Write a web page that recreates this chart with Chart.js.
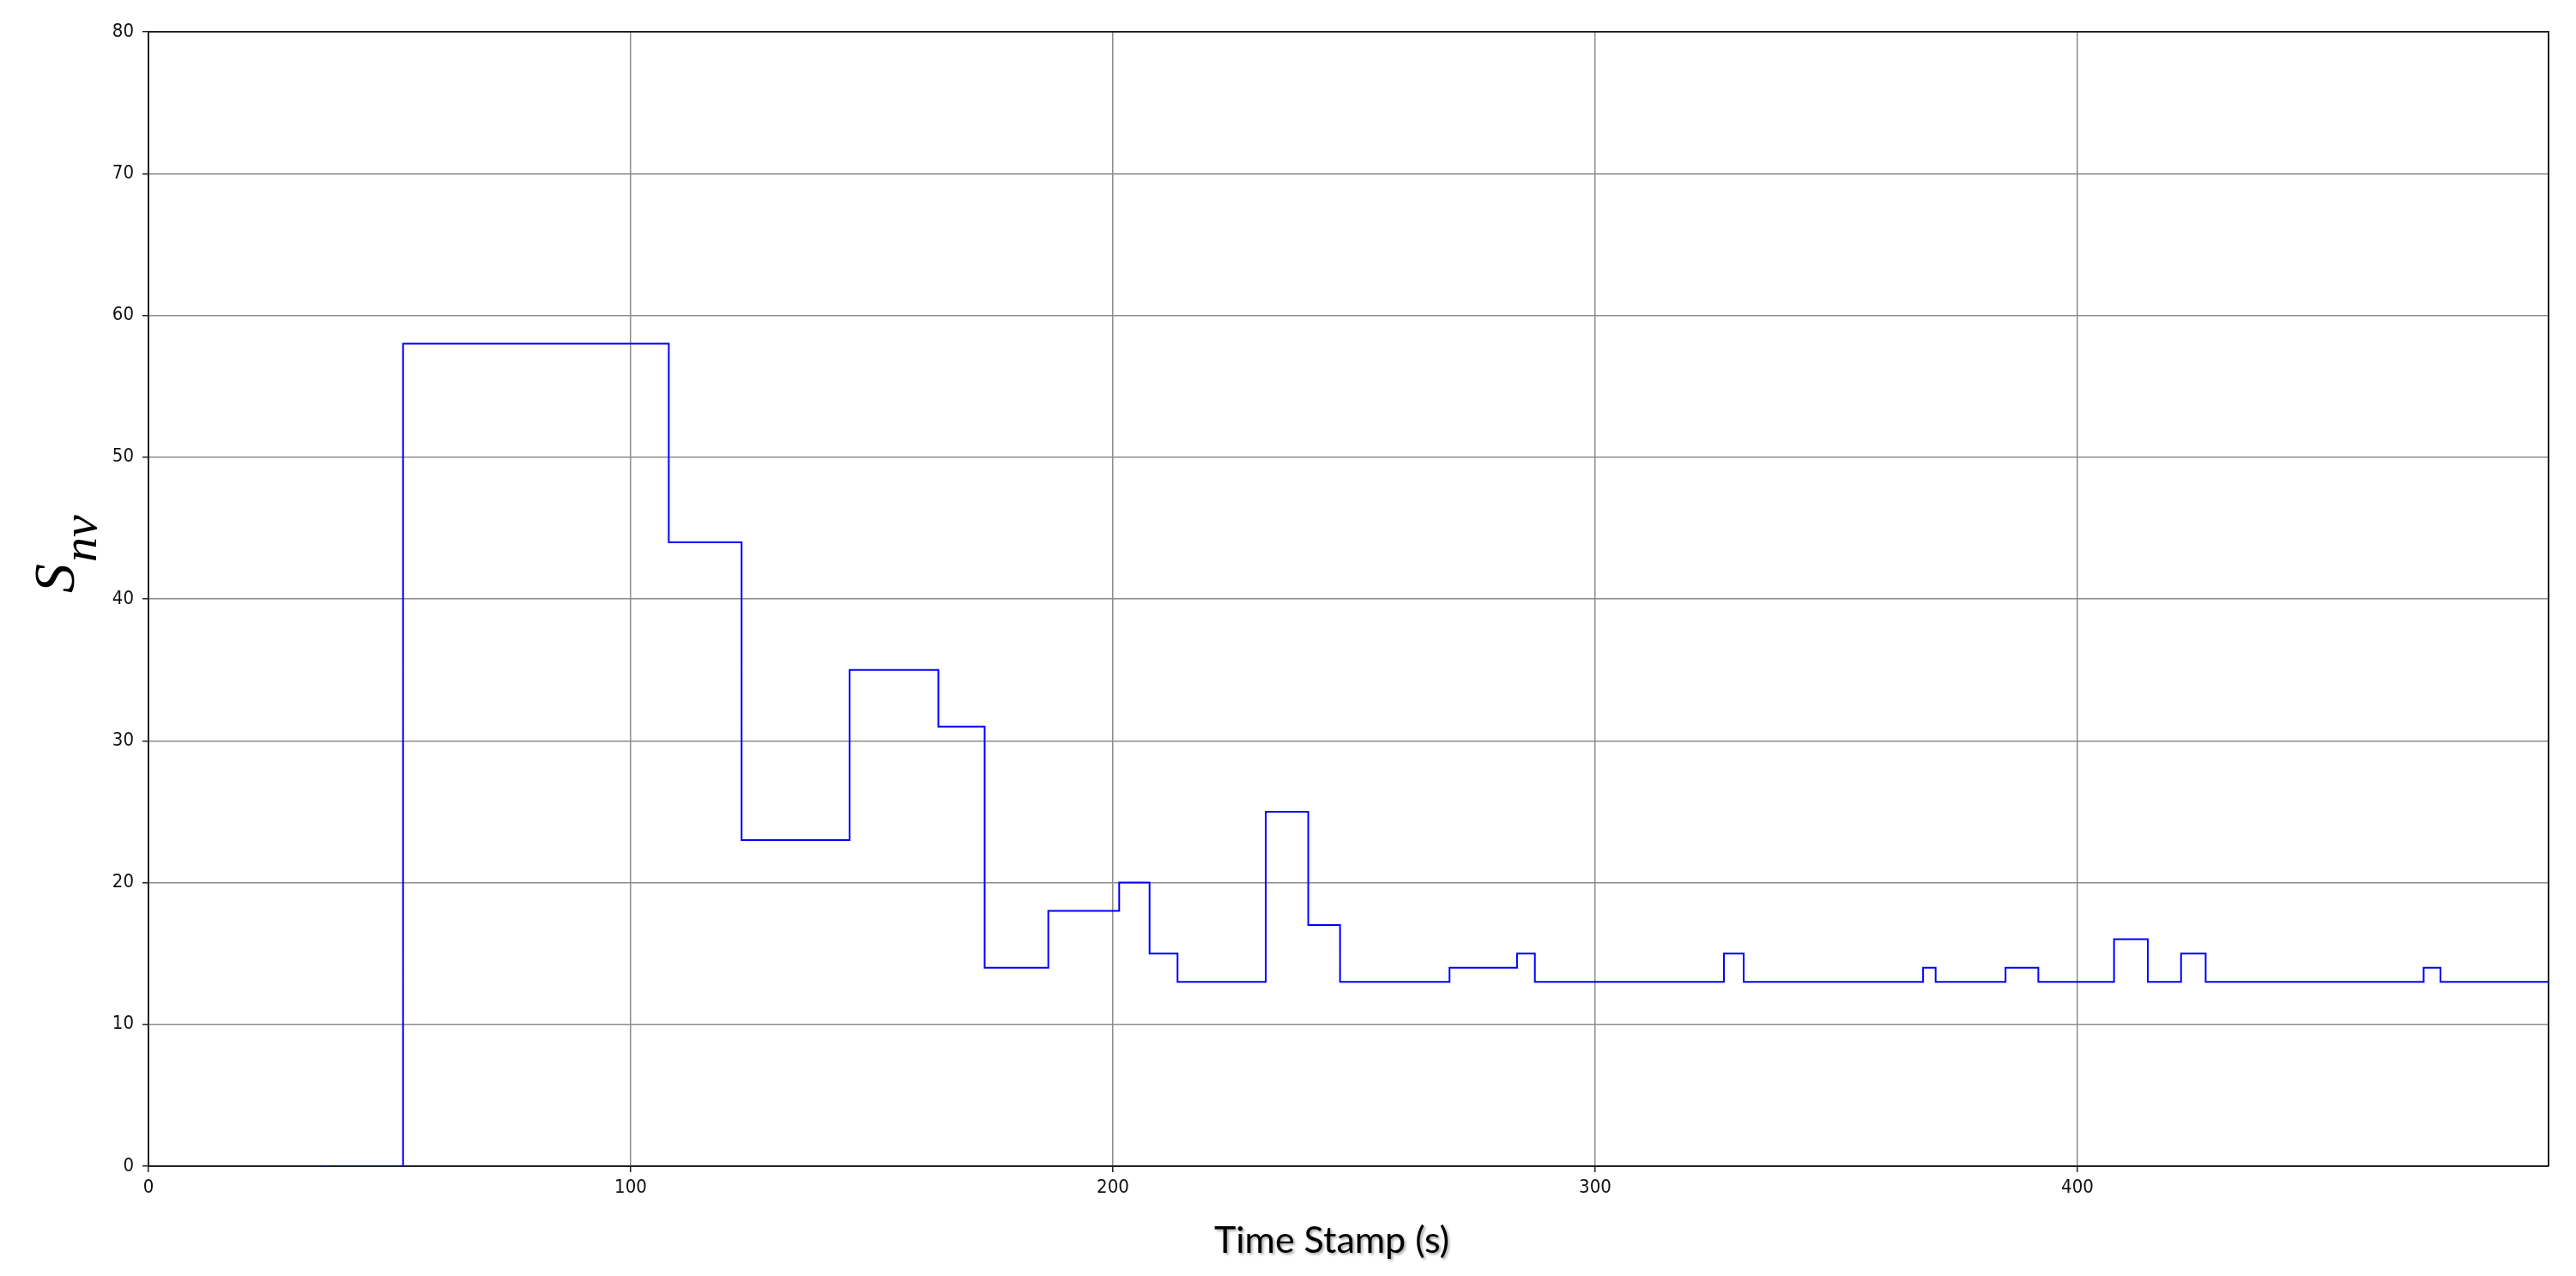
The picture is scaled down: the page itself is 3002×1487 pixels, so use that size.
<!DOCTYPE html>
<html>
<head>
<meta charset="utf-8">
<title>S_nv over time</title>
<script src="https://cdn.jsdelivr.net/npm/chart.js@4.4.1/dist/chart.umd.min.js"></script>
<style>
  html, body { margin: 0; padding: 0; background: #fff; }
  #chart { display: block; }
</style>
</head>
<body>
<canvas id="chart" width="3002" height="1487"></canvas>
<script>
// step trace: time (s) where S_nv changes, and the value it holds from there on
const TIME_S = [36.5, 52.8, 107.9, 123.0, 145.4, 163.8, 173.4, 186.6, 201.3, 207.6,
                213.4, 231.7, 240.5, 247.1, 269.8, 283.8, 287.5, 326.7, 330.8, 368.0,
                370.6, 385.1, 391.9, 407.6, 414.6, 421.5, 426.6, 471.8, 475.3, 497.7];
const S_NV   = [0, 58, 44, 23, 35, 31, 14, 18, 20, 15,
                13, 25, 17, 13, 14, 15, 13, 15, 13, 14,
                13, 14, 13, 16, 13, 15, 13, 14, 13, 13];

const X_TICKS = [0, 100, 200, 300, 400];
const Y_TICKS = [0, 10, 20, 30, 40, 50, 60, 70, 80];
const X_MAX = 497.7;

const points = TIME_S.map((t, i) => ({ x: t, y: S_NV[i] }));

const TICK_FONT = { family: "'DejaVu Sans Condensed', 'DejaVu Sans'", size: 22 };

// frame (top/right) + axis titles drawn by hand, so the subscript works
const framePlugin = {
  id: "frame",
  afterDraw(chart) {
    const { ctx, chartArea: a } = chart;
    ctx.save();
    ctx.strokeStyle = "#222";
    ctx.lineWidth = 2;
    ctx.beginPath();
    ctx.moveTo(a.left, a.top);
    ctx.lineTo(a.right, a.top);
    ctx.lineTo(a.right, a.bottom);
    ctx.stroke();

    // x title, with the soft shadow of the original
    ctx.fillStyle = "#000";
    ctx.font = "43px Lato, 'Open Sans', sans-serif";
    ctx.textAlign = "center";
    ctx.textBaseline = "middle";
    ctx.shadowColor = "rgba(0,0,0,0.35)";
    ctx.shadowOffsetX = 2;
    ctx.shadowOffsetY = 2;
    ctx.shadowBlur = 3;
    ctx.fillText("Time Stamp (s)", 1552, 1446);
    ctx.restore();

    // y title: S with subscript nv, rotated
    ctx.save();
    ctx.translate(86, 691);
    ctx.rotate(-Math.PI / 2);
    ctx.fillStyle = "#000";
    ctx.textAlign = "left";
    ctx.textBaseline = "alphabetic";
    ctx.font = "italic 68px 'Liberation Serif', 'DejaVu Serif', serif";
    ctx.fillText("S", 0, 0);
    const w = ctx.measureText("S").width;
    ctx.font = "italic 58px 'Liberation Serif', 'DejaVu Serif', serif";
    ctx.fillText("nv", w + 2, 26);
    ctx.restore();
  }
};

const ctx = document.getElementById("chart").getContext("2d");
new Chart(ctx, {
  type: "line",
  data: {
    datasets: [{
      data: points,
      borderColor: "#0000ff",
      borderWidth: 2,
      pointRadius: 0,
      stepped: true,
      fill: false
    }]
  },
  options: {
    responsive: false,
    animation: false,
    devicePixelRatio: 1,
    layout: { padding: { top: 37, right: 32, left: 0, bottom: 0 } },
    plugins: { legend: { display: false }, tooltip: { enabled: false } },
    scales: {
      x: {
        type: "linear",
        min: 0,
        max: X_MAX,
        afterBuildTicks: s => { s.ticks = X_TICKS.map(v => ({ value: v })); },
        afterFit: s => { s.height = 128; },
        grid: { color: "#8c8c8c", lineWidth: 1.5, tickLength: 7, tickColor: "#222" },
        border: { color: "#222", width: 2 },
        ticks: { color: "#111", padding: 5, maxRotation: 0, font: TICK_FONT }
      },
      y: {
        min: 0,
        max: 80,
        afterBuildTicks: s => { s.ticks = Y_TICKS.map(v => ({ value: v })); },
        afterFit: s => { s.width = 173; },
        grid: { color: "#8c8c8c", lineWidth: 1.5, tickLength: 7, tickColor: "#222" },
        border: { color: "#222", width: 2 },
        ticks: { color: "#111", padding: 10, font: TICK_FONT }
      }
    }
  },
  plugins: [framePlugin]
});
</script>
</body>
</html>
